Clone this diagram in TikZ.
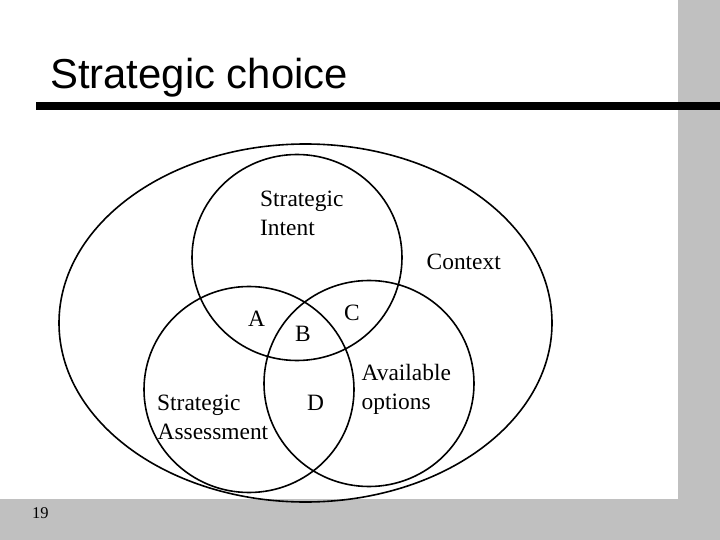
\documentclass[tikz,border=0pt]{standalone}
\usepackage{fontspec}
\setmainfont{Liberation Serif}
\newfontfamily\titlefont{Liberation Sans}
\definecolor{panelgrey}{HTML}{C0C0C0}
\begin{document}
\begin{tikzpicture}[x=1bp,y=-1bp,
  ring/.style={draw=black,line width=1.6bp},
  lbl/.style={inner sep=0pt,anchor=base west,font=\fontsize{23.5}{29}\selectfont},
  titletext/.style={inner sep=0pt,anchor=base west,font=\titlefont\fontsize{42}{48}\selectfont},
  pagenum/.style={inner sep=0pt,anchor=base west,font=\fontsize{16.5}{20}\selectfont},
]
\useasboundingbox (0,0) rectangle (720,540);
\fill[white] (0,0) rectangle (720,540);
% grey frame strips
\fill[panelgrey] (678,0) rectangle (720,540);
\fill[panelgrey] (0,499) rectangle (720,540);
% title and rule
\node[titletext] (title) at (50,89) {Strategic choice};
\fill[black] (36,102) rectangle (720,110);
% context ellipse
\draw[ring] (305.5,323) ellipse [x radius=246.5, y radius=179];
% three circles
\draw[ring] (297,257.5) ellipse [x radius=105, y radius=103];
\draw[ring] (249,389.5) ellipse [x radius=105, y radius=103];
\draw[ring] (369,383.5) ellipse [x radius=105, y radius=103];
% labels
\node[lbl] (intent1) at (260,206.5) {Strategic};
\node[lbl] (intent2) at (260,235.5) {Intent};
\node[lbl] (context) at (426.5,270) {Context};
\node[lbl] (la) at (248,326.5) {A};
\node[lbl] (lb) at (295,341.5) {B};
\node[lbl] (lc) at (344,320.5) {C};
\node[lbl] (ld) at (307,410.5) {D};
\node[lbl] (avail1) at (361.5,380.5) {Available};
\node[lbl] (avail2) at (361.5,409.5) {options};
\node[lbl] (assess1) at (157,410.5) {Strategic};
\node[lbl] (assess2) at (157.5,439) {Assessment};
\node[pagenum] (page) at (32,518) {19};
\end{tikzpicture}
\end{document}
